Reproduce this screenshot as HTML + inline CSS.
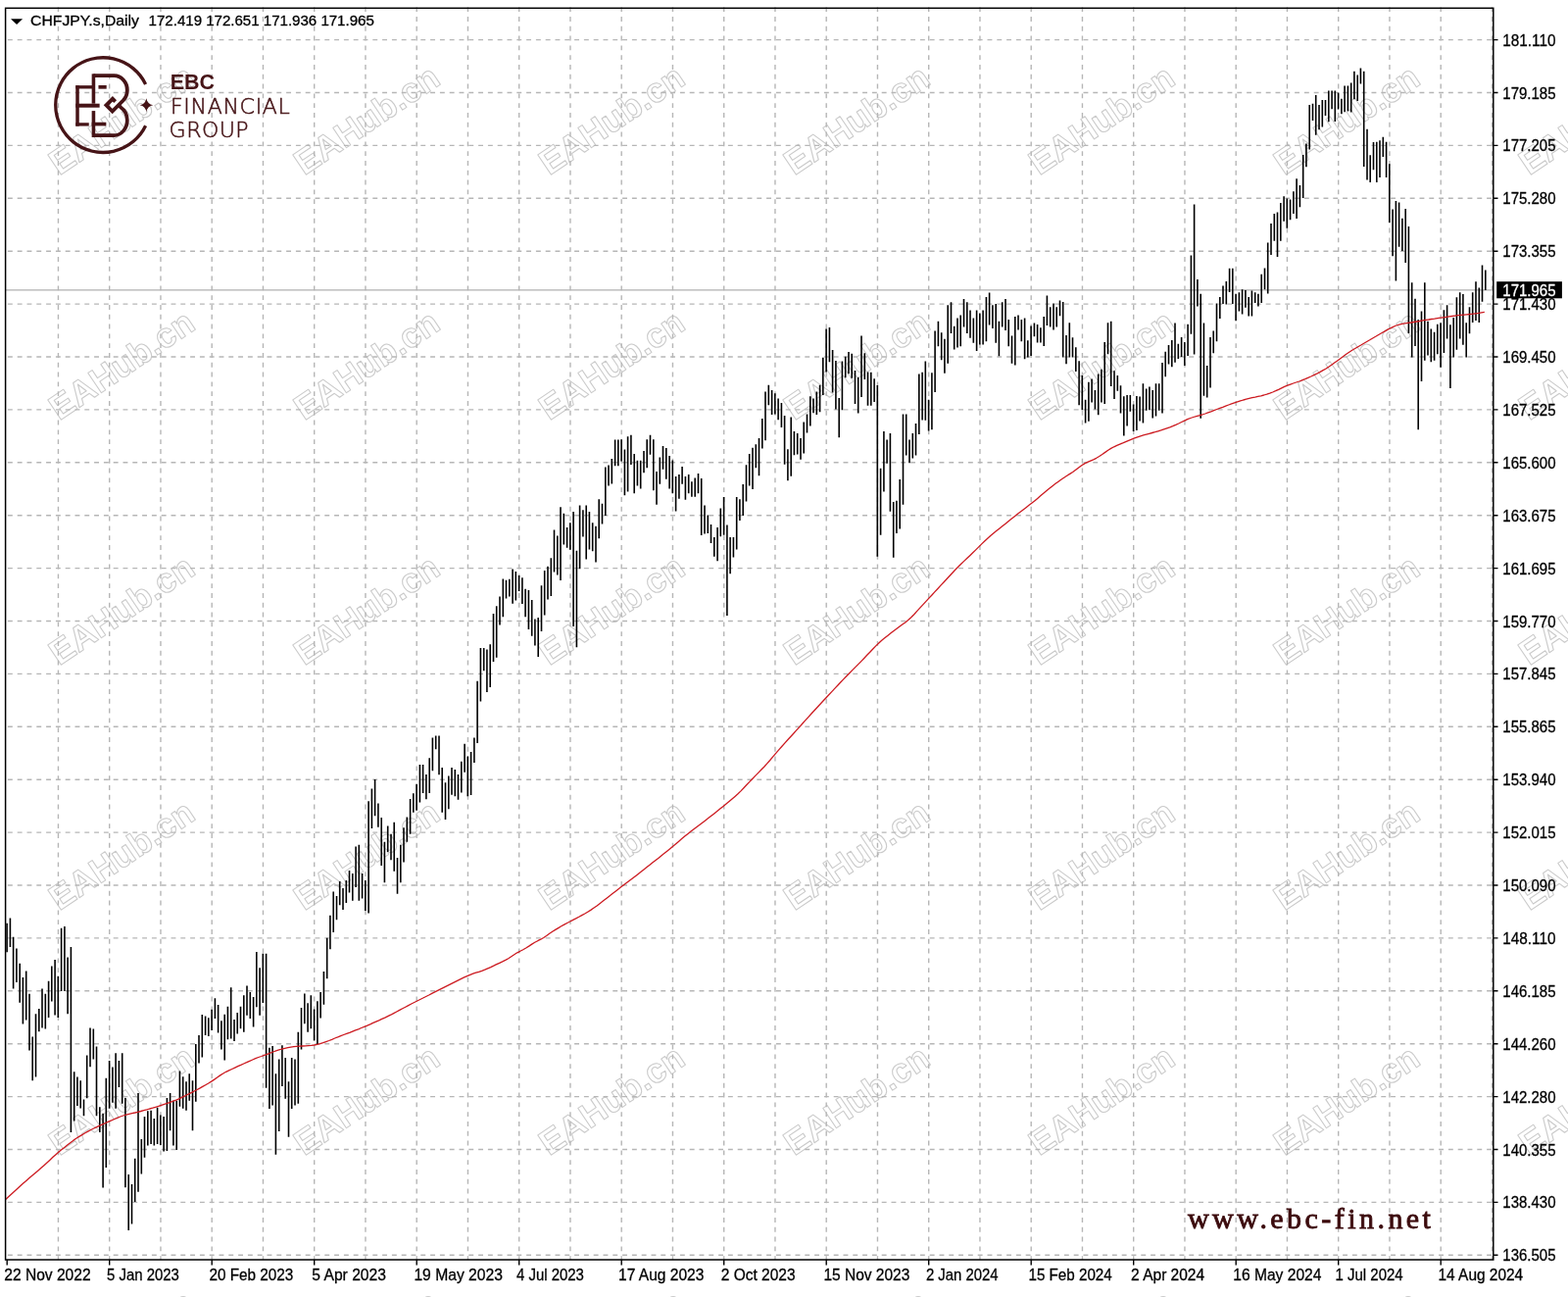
<!DOCTYPE html><html><head><meta charset="utf-8"><title>CHFJPY.s,Daily</title><style>html,body{margin:0;padding:0;background:#fff;overflow:hidden;}svg{display:block;}text{font-family:"Liberation Sans",Arial,sans-serif;}</style></head><body>
<svg width="1600" height="1323" viewBox="0 0 1600 1323">
<rect width="1600" height="1323" fill="#fff"/>
<g font-size="35.5" font-weight="bold" fill="none" stroke="#cacaca" stroke-width="1.05" stroke-linejoin="round" style="font-family:'Liberation Sans',sans-serif"><text x="60.6" y="179.6" transform="rotate(-34 60.6 179.6)">EAHub.cn</text><text x="310.6" y="179.6" transform="rotate(-34 310.6 179.6)">EAHub.cn</text><text x="560.6" y="179.6" transform="rotate(-34 560.6 179.6)">EAHub.cn</text><text x="810.6" y="179.6" transform="rotate(-34 810.6 179.6)">EAHub.cn</text><text x="1060.6" y="179.6" transform="rotate(-34 1060.6 179.6)">EAHub.cn</text><text x="1310.6" y="179.6" transform="rotate(-34 1310.6 179.6)">EAHub.cn</text><text x="1560.6" y="179.6" transform="rotate(-34 1560.6 179.6)">EAHub.cn</text><text x="60.6" y="429.6" transform="rotate(-34 60.6 429.6)">EAHub.cn</text><text x="310.6" y="429.6" transform="rotate(-34 310.6 429.6)">EAHub.cn</text><text x="560.6" y="429.6" transform="rotate(-34 560.6 429.6)">EAHub.cn</text><text x="810.6" y="429.6" transform="rotate(-34 810.6 429.6)">EAHub.cn</text><text x="1060.6" y="429.6" transform="rotate(-34 1060.6 429.6)">EAHub.cn</text><text x="1310.6" y="429.6" transform="rotate(-34 1310.6 429.6)">EAHub.cn</text><text x="1560.6" y="429.6" transform="rotate(-34 1560.6 429.6)">EAHub.cn</text><text x="60.6" y="679.6" transform="rotate(-34 60.6 679.6)">EAHub.cn</text><text x="310.6" y="679.6" transform="rotate(-34 310.6 679.6)">EAHub.cn</text><text x="560.6" y="679.6" transform="rotate(-34 560.6 679.6)">EAHub.cn</text><text x="810.6" y="679.6" transform="rotate(-34 810.6 679.6)">EAHub.cn</text><text x="1060.6" y="679.6" transform="rotate(-34 1060.6 679.6)">EAHub.cn</text><text x="1310.6" y="679.6" transform="rotate(-34 1310.6 679.6)">EAHub.cn</text><text x="1560.6" y="679.6" transform="rotate(-34 1560.6 679.6)">EAHub.cn</text><text x="60.6" y="929.6" transform="rotate(-34 60.6 929.6)">EAHub.cn</text><text x="310.6" y="929.6" transform="rotate(-34 310.6 929.6)">EAHub.cn</text><text x="560.6" y="929.6" transform="rotate(-34 560.6 929.6)">EAHub.cn</text><text x="810.6" y="929.6" transform="rotate(-34 810.6 929.6)">EAHub.cn</text><text x="1060.6" y="929.6" transform="rotate(-34 1060.6 929.6)">EAHub.cn</text><text x="1310.6" y="929.6" transform="rotate(-34 1310.6 929.6)">EAHub.cn</text><text x="1560.6" y="929.6" transform="rotate(-34 1560.6 929.6)">EAHub.cn</text><text x="60.6" y="1179.6" transform="rotate(-34 60.6 1179.6)">EAHub.cn</text><text x="310.6" y="1179.6" transform="rotate(-34 310.6 1179.6)">EAHub.cn</text><text x="560.6" y="1179.6" transform="rotate(-34 560.6 1179.6)">EAHub.cn</text><text x="810.6" y="1179.6" transform="rotate(-34 810.6 1179.6)">EAHub.cn</text><text x="1060.6" y="1179.6" transform="rotate(-34 1060.6 1179.6)">EAHub.cn</text><text x="1310.6" y="1179.6" transform="rotate(-34 1310.6 1179.6)">EAHub.cn</text><text x="1560.6" y="1179.6" transform="rotate(-34 1560.6 1179.6)">EAHub.cn</text><text x="60.6" y="1429.6" transform="rotate(-34 60.6 1429.6)">EAHub.cn</text><text x="310.6" y="1429.6" transform="rotate(-34 310.6 1429.6)">EAHub.cn</text><text x="560.6" y="1429.6" transform="rotate(-34 560.6 1429.6)">EAHub.cn</text><text x="810.6" y="1429.6" transform="rotate(-34 810.6 1429.6)">EAHub.cn</text><text x="1060.6" y="1429.6" transform="rotate(-34 1060.6 1429.6)">EAHub.cn</text><text x="1310.6" y="1429.6" transform="rotate(-34 1310.6 1429.6)">EAHub.cn</text><text x="1560.6" y="1429.6" transform="rotate(-34 1560.6 1429.6)">EAHub.cn</text></g>
<path d="M7.9 40.6H1523.8M7.9 94.5H1523.8M7.9 148.4H1523.8M7.9 202.3H1523.8M7.9 256.2H1523.8M7.9 310.1H1523.8M7.9 364.0H1523.8M7.9 417.9H1523.8M7.9 471.8H1523.8M7.9 525.7H1523.8M7.9 579.6H1523.8M7.9 633.5H1523.8M7.9 687.4H1523.8M7.9 741.3H1523.8M7.9 795.2H1523.8M7.9 849.1H1523.8M7.9 903.0H1523.8M7.9 956.9H1523.8M7.9 1010.8H1523.8M7.9 1064.7H1523.8M7.9 1118.6H1523.8M7.9 1172.5H1523.8M7.9 1226.4H1523.8M7.9 1280.3H1523.8" stroke="#b6b6b6" stroke-width="1.4" stroke-dasharray="4.9 4.9" fill="none"/>
<path d="M59.45 7.2V1285.0M111.70 7.2V1285.0M163.95 7.2V1285.0M216.20 7.2V1285.0M268.45 7.2V1285.0M320.70 7.2V1285.0M372.95 7.2V1285.0M425.20 7.2V1285.0M477.45 7.2V1285.0M529.70 7.2V1285.0M581.95 7.2V1285.0M634.20 7.2V1285.0M686.45 7.2V1285.0M738.70 7.2V1285.0M790.95 7.2V1285.0M843.20 7.2V1285.0M895.45 7.2V1285.0M947.70 7.2V1285.0M999.95 7.2V1285.0M1052.20 7.2V1285.0M1104.45 7.2V1285.0M1156.70 7.2V1285.0M1208.95 7.2V1285.0M1261.20 7.2V1285.0M1313.45 7.2V1285.0M1365.70 7.2V1285.0M1417.95 7.2V1285.0M1470.20 7.2V1285.0M1522.45 7.2V1285.0" stroke="#b6b6b6" stroke-width="1.4" stroke-dasharray="4.9 4.9" fill="none"/>
<path d="M5.6 295.8H1523.8" stroke="#b0b0b0" stroke-width="1.2"/>
<path d="M7.1 941.7V971.3M10.4 936.6V966.1M13.6 955.8V1008.5M16.9 967.4V1002.1M20.2 982.8V1022.7M23.4 997.0V1044.5M26.7 990.5V1040.6M30.0 1013.7V1071.5M33.2 1057.4V1102.3M36.5 1034.2V1098.5M39.8 1029.1V1052.2M43.0 1008.5V1048.4M46.3 1013.7V1049.6M49.6 1000.8V1038.1M52.8 985.4V1021.4M56.1 979.0V1035.5M59.3 995.7V1038.1M62.6 946.8V1011.1M65.9 945.0V1011.1M69.1 976.4V1034.2M72.4 966.1V1155.0M75.7 1093.3V1143.4M78.9 1098.5V1128.0M82.2 1102.3V1130.6M85.5 1121.6V1138.3M88.7 1076.6V1120.3M92.0 1048.4V1088.2M95.3 1049.6V1080.5M98.5 1067.6V1138.3M101.8 1129.3V1155.0M105.1 1135.7V1211.5M108.3 1099.8V1191.0M111.6 1082.1V1130.7M114.9 1088.4V1124.8M118.1 1074.3V1130.7M121.4 1082.1V1109.1M124.7 1074.3V1125.8M127.9 1119.9V1211.3M131.2 1198.1V1255.1M134.5 1207.9V1248.6M137.7 1181.8V1226.0M141.0 1115.0V1215.8M144.3 1162.1V1197.5M147.5 1139.1V1180.8M150.8 1133.2V1168.6M154.1 1132.7V1167.0M157.3 1141.1V1168.6M160.6 1129.7V1167.0M163.8 1137.6V1168.0M167.1 1139.1V1174.5M170.4 1119.9V1173.9M173.6 1115.0V1153.3M176.9 1122.8V1168.6M180.2 1122.8V1172.9M183.4 1092.4V1128.7M186.7 1098.3V1130.7M190.0 1103.2V1132.7M193.2 1095.3V1122.8M196.5 1102.2V1153.3M199.8 1064.9V1123.8M203.0 1056.0V1084.5M206.3 1035.0V1078.6M209.6 1036.4V1056.0M212.8 1038.3V1057.0M216.1 1029.7V1051.0M219.4 1018.2V1039.1M222.6 1025.0V1053.5M225.9 1041.3V1070.5M229.2 1034.8V1081.6M232.4 1026.7V1060.3M235.7 1007.3V1059.5M239.0 1039.9V1062.0M242.2 1033.1V1054.4M245.5 1026.7V1049.3M248.8 1015.3V1052.7M252.0 1005.6V1035.7M255.3 1011.9V1039.1M258.6 1017.0V1047.6M261.8 971.1V1027.2M265.1 987.2V1035.7M268.3 972.8V1022.9M271.6 972.8V1109.7M274.9 1068.8V1130.9M278.1 1067.1V1127.5M281.4 1095.2V1177.7M284.7 1080.4V1153.9M287.9 1066.3V1108.0M291.2 1079.0V1120.7M294.5 1103.2V1159.8M297.7 1079.0V1130.9M301.0 1080.4V1127.5M304.3 1052.7V1125.8M307.5 1028.0V1070.5M310.8 1013.6V1044.2M314.1 1023.3V1052.7M317.3 1015.3V1049.3M320.6 1029.4V1061.6M323.9 1021.3V1065.1M327.1 1012.1V1038.6M330.4 990.9V1024.7M333.7 956.7V998.2M336.9 933.7V968.3M340.2 909.5V951.0M343.5 914.1V938.3M346.7 899.1V923.3M350.0 906.0V927.9M353.3 897.9V921.0M356.5 888.0V910.6M359.8 891.0V918.7M363.1 863.4V904.9M366.3 861.8V918.7M369.6 891.0V916.4M372.8 897.9V929.1M376.1 817.3V931.4M379.4 804.6V844.9M382.6 794.9V832.2M385.9 819.6V843.8M389.2 834.1V883.0M392.4 858.8V900.3M395.7 842.6V869.1M399.0 850.7V877.2M402.2 838.7V888.7M405.5 874.9V911.8M408.8 861.8V900.3M412.0 844.2V879.5M415.3 833.4V858.8M418.6 815.0V850.7M421.8 809.2V828.8M425.1 799.7V826.7M428.4 779.9V818.4M431.6 779.9V809.0M434.9 789.9V815.3M438.2 773.3V809.0M441.4 752.5V786.2M444.7 750.4V764.3M448.0 750.4V790.3M451.2 783.1V828.8M454.5 798.2V836.1M457.8 791.4V825.3M461.0 783.1V810.7M464.3 785.1V812.2M467.5 789.9V815.7M470.8 776.8V808.6M474.1 758.7V787.8M477.3 771.6V812.2M480.6 767.1V811.1M483.9 752.5V777.9M487.1 694.7V758.1M490.4 661.0V715.5M493.7 661.0V684.3M496.9 662.5V706.1M500.2 657.3V701.0M503.5 626.1V675.0M506.7 618.2V670.8M510.0 608.5V637.6M513.3 590.4V629.2M516.5 591.8V610.5M519.8 590.8V608.5M523.1 580.4V615.7M526.3 582.9V612.6M529.6 587.1V603.1M532.9 589.2V615.9M536.1 600.8V629.2M539.4 602.0V642.1M542.7 611.9V648.7M545.9 631.5V658.5M549.2 630.1V670.0M552.5 597.2V643.9M555.7 582.1V627.4M559.0 577.7V611.4M562.3 569.3V607.9M565.5 540.4V583.5M568.8 546.6V586.5M572.0 517.3V591.9M575.3 523.8V555.5M578.6 538.0V558.7M581.8 533.3V560.8M585.1 522.1V638.9M588.4 561.7V660.3M591.6 515.5V580.3M594.9 520.3V547.5M598.2 515.5V570.6M601.4 522.1V560.4M604.7 533.3V562.2M608.0 536.8V573.6M611.2 509.3V549.2M614.5 513.7V534.5M617.8 476.4V526.1M621.0 474.6V495.4M624.3 468.1V493.6M627.6 448.5V475.2M630.8 448.5V475.2M634.1 448.3V470.5M637.4 458.4V505.3M640.6 445.3V501.5M643.9 443.8V474.0M647.2 463.0V503.3M650.4 469.8V495.5M653.7 469.8V498.5M657.0 459.9V482.2M660.2 448.3V477.3M663.5 443.8V463.7M666.8 448.3V500.3M670.0 481.1V514.8M673.3 466.4V493.7M676.5 455.0V478.8M679.8 456.9V488.7M683.1 464.9V498.5M686.3 469.5V503.3M689.6 486.1V521.5M692.9 484.1V508.8M696.1 476.1V493.7M699.4 486.1V509.8M702.7 484.1V503.3M705.9 491.2V506.8M709.2 487.6V506.8M712.5 483.1V503.3M715.7 487.9V546.1M719.0 515.4V544.6M722.3 525.4V544.1M725.5 535.1V554.1M728.8 548.1V567.7M732.1 538.1V572.3M735.3 518.4V547.2M738.6 506.9V545.7M741.9 535.4V627.9M745.1 548.0V585.2M748.4 548.0V568.5M751.7 506.9V560.6M754.9 509.2V530.9M758.2 493.9V525.9M761.5 474.3V511.5M764.7 462.9V495.5M768.0 456.7V498.9M771.3 453.3V477.2M774.5 446.9V485.2M777.8 427.0V457.4M781.0 399.6V449.2M784.3 392.8V413.3M787.6 398.0V423.1M790.8 401.2V422.4M794.1 406.5V428.2M797.4 411.0V436.1M800.6 424.0V473.8M803.9 458.3V490.2M807.2 425.4V485.7M810.4 440.0V464.2M813.7 441.9V463.5M817.0 446.9V468.8M820.2 430.4V462.4M823.5 422.4V441.4M826.8 404.2V434.5M830.0 406.5V421.3M833.3 399.6V423.1M836.6 392.8V420.2M839.8 364.7V403.0M843.1 335.5V379.4M846.4 334.0V369.3M849.6 357.1V400.4M852.9 368.0V417.4M856.2 405.9V446.2M859.4 368.4V418.2M862.7 363.8V385.2M866.0 358.9V381.2M869.2 360.7V385.8M872.5 377.9V411.9M875.7 384.9V421.5M879.0 342.4V405.0M882.3 360.2V387.1M885.5 379.4V413.8M888.8 379.8V413.8M892.1 386.3V410.1M895.3 393.1V567.8M898.6 477.8V545.8M901.9 440.1V501.6M905.1 448.5V472.7M908.4 441.9V521.7M911.7 512.0V568.7M914.9 510.7V544.0M918.2 489.1V539.4M921.5 422.4V514.7M924.7 422.4V464.4M928.0 448.5V472.3M931.3 441.9V467.6M934.5 432.1V464.4M937.8 381.6V443.0M941.1 379.8V428.4M944.3 368.4V428.8M947.6 407.7V439.4M950.9 380.2V438.2M954.1 337.4V400.1M957.4 327.7V353.3M960.7 339.2V367.3M963.9 345.7V380.8M967.2 311.3V370.8M970.5 308.2V340.1M973.7 332.8V356.5M977.0 324.6V354.4M980.2 321.4V353.3M983.5 305.0V333.6M986.8 308.2V340.1M990.0 316.4V344.8M993.3 324.6V349.8M996.6 316.4V358.0M999.8 319.5V351.5M1003.1 316.4V351.5M1006.4 303.1V348.3M1009.6 298.4V331.6M1012.9 311.3V335.1M1016.2 309.9V349.8M1019.4 327.7V363.2M1022.7 308.2V333.6M1026.0 305.0V336.9M1029.2 326.1V353.3M1032.5 342.5V370.8M1035.8 323.0V372.6M1039.0 321.4V336.6M1042.3 326.1V348.3M1045.6 324.6V366.2M1048.8 347.2V364.4M1052.1 332.5V363.0M1055.4 329.6V343.3M1058.6 331.1V349.5M1061.9 334.2V349.5M1065.2 322.9V353.0M1068.4 301.4V331.9M1071.7 313.2V333.4M1075.0 309.6V336.6M1078.2 313.2V333.4M1081.5 306.5V322.2M1084.7 308.1V364.4M1088.0 342.1V371.2M1091.3 329.2V364.4M1094.5 344.2V364.4M1097.8 354.2V379.1M1101.1 368.2V413.3M1104.3 383.1V418.3M1107.6 407.7V431.5M1110.9 389.7V429.7M1114.1 386.4V410.4M1117.4 397.9V417.4M1120.7 381.5V423.3M1123.9 376.8V410.4M1127.2 349.1V411.9M1130.5 329.2V361.2M1133.7 327.8V394.0M1137.0 378.2V406.9M1140.3 383.1V398.7M1143.5 393.2V421.5M1146.8 404.2V444.4M1150.1 403.0V434.4M1153.3 403.0V419.8M1156.6 412.6V440.0M1159.9 404.1V439.0M1163.1 404.5V429.6M1166.4 391.2V431.5M1169.7 396.5V418.8M1172.9 394.6V418.3M1176.2 398.0V426.4M1179.5 391.2V424.5M1182.7 391.2V418.8M1186.0 370.1V421.5M1189.2 358.7V384.2M1192.5 352.1V371.6M1195.8 347.0V374.2M1199.0 329.4V369.7M1202.3 350.8V365.9M1205.6 344.0V364.0M1208.8 348.9V372.9M1212.1 330.8V362.9M1215.4 260.5V340.8M1218.6 208.5V361.6M1221.9 285.0V312.4M1225.2 299.8V426.8M1228.4 329.4V403.7M1231.7 372.9V405.6M1235.0 344.0V395.6M1238.2 337.6V360.2M1241.5 309.6V348.3M1244.8 303.0V325.1M1248.0 291.6V310.0M1251.3 286.9V310.5M1254.6 273.7V297.9M1257.8 273.7V310.0M1261.1 299.8V327.2M1264.4 298.3V317.4M1267.6 295.2V320.6M1270.9 296.1V313.7M1274.2 303.1V322.4M1277.4 296.5V322.4M1280.7 298.3V309.1M1283.9 299.8V312.4M1287.2 279.8V309.1M1290.5 273.5V295.2M1293.7 247.6V299.4M1297.0 228.0V260.0M1300.3 218.0V245.7M1303.5 216.5V261.9M1306.8 206.9V245.7M1310.1 200.2V225.7M1313.3 202.6V232.8M1316.6 203.5V224.3M1319.9 195.2V218.0M1323.1 182.2V223.0M1326.4 189.1V211.3M1329.7 158.1V202.0M1332.9 146.5V170.2M1336.2 106.9V152.6M1339.5 105.7V123.0M1342.7 97.0V137.8M1346.0 106.9V132.2M1349.3 102.0V129.4M1352.5 102.0V118.0M1355.8 92.4V124.3M1359.1 92.4V111.3M1362.3 92.4V123.9M1365.6 94.4V111.5M1368.9 100.7V116.3M1372.1 87.5V114.2M1375.4 87.5V113.3M1378.7 84.5V114.5M1381.9 72.8V101.2M1385.2 76.4V103.0M1388.4 69.6V85.4M1391.7 72.8V169.9M1395.0 131.8V183.4M1398.2 158.2V186.1M1401.5 145.1V173.2M1404.8 144.8V186.1M1408.0 143.3V181.1M1411.3 139.7V160.0M1414.6 144.8V181.1M1417.8 167.2V227.1M1421.1 213.5V261.3M1424.4 205.0V286.4M1427.6 206.4V251.7M1430.9 222.8V255.9M1434.2 213.1V268.1M1437.4 230.9V340.0M1440.7 288.3V364.4M1444.0 304.7V352.9M1447.2 325.9V438.3M1450.5 317.6V388.9M1453.8 288.3V367.7M1457.0 327.8V362.5M1460.3 335.5V369.3M1463.6 338.8V367.7M1466.8 330.7V361.2M1470.1 329.2V374.7M1473.4 316.2V359.9M1476.6 311.2V345.4M1479.9 331.3V395.9M1483.2 323.9V364.6M1486.4 303.3V356.7M1489.7 298.2V345.4M1492.9 299.9V351.7M1496.2 329.2V364.6M1499.5 313.3V340.3M1502.7 298.2V328.9M1506.0 287.2V327.1M1509.3 293.5V328.9M1512.5 270.5V307.7M1515.8 275.5V296.1" stroke="#000" stroke-width="1.6" fill="none"/>
<polyline points="5.7,1223.6 8.7,1220.8 11.7,1218.1 14.7,1215.3 17.7,1212.5 20.7,1209.7 23.7,1207.0 26.7,1204.4 29.7,1201.8 32.7,1199.3 35.7,1196.8 38.7,1194.2 41.7,1191.6 44.7,1188.9 47.7,1186.2 50.7,1183.4 53.7,1180.6 56.7,1177.9 59.7,1175.3 62.7,1172.8 65.7,1170.4 68.7,1168.0 71.7,1165.7 74.7,1163.4 77.7,1161.3 80.7,1159.4 83.7,1157.6 86.7,1155.8 89.7,1154.1 92.7,1152.5 95.7,1151.0 98.7,1149.6 101.7,1148.2 104.7,1146.8 107.7,1145.5 110.7,1144.2 113.7,1142.9 116.7,1141.5 119.7,1140.3 122.7,1139.0 125.7,1138.0 128.7,1137.1 131.7,1136.3 134.7,1135.6 137.7,1135.0 140.7,1134.3 143.7,1133.5 146.7,1132.7 149.7,1131.9 152.7,1131.0 155.7,1130.2 158.7,1129.3 161.7,1128.4 164.7,1127.4 167.7,1126.4 170.7,1125.4 173.7,1124.3 176.7,1123.2 179.7,1122.1 182.7,1120.8 185.7,1119.3 188.7,1117.9 191.7,1116.3 194.7,1114.8 197.7,1113.3 200.7,1111.7 203.7,1110.1 206.7,1108.4 209.7,1106.7 212.7,1105.0 215.7,1103.1 218.7,1101.1 221.7,1099.0 224.7,1096.9 227.7,1095.0 230.7,1093.3 233.7,1091.9 236.7,1090.5 239.7,1089.1 242.7,1087.7 245.7,1086.4 248.7,1085.0 251.7,1083.7 254.7,1082.3 257.7,1081.0 260.7,1079.7 263.7,1078.5 266.7,1077.5 269.7,1076.4 272.7,1075.3 275.7,1074.2 278.7,1073.0 281.7,1071.9 284.7,1070.9 287.7,1070.0 290.7,1069.3 293.7,1068.7 296.7,1068.1 299.7,1067.7 302.7,1067.4 305.7,1067.2 308.7,1067.0 311.7,1066.8 314.7,1066.6 317.7,1066.4 320.7,1066.0 323.7,1065.4 326.7,1064.6 329.7,1063.7 332.7,1062.6 335.7,1061.5 338.7,1060.3 341.7,1059.0 344.7,1057.9 347.7,1056.7 350.7,1055.5 353.7,1054.4 356.7,1053.3 359.7,1052.1 362.7,1050.9 365.7,1049.8 368.7,1048.5 371.7,1047.3 374.7,1046.1 377.7,1044.8 380.7,1043.4 383.7,1042.1 386.7,1040.8 389.7,1039.4 392.7,1038.1 395.7,1036.6 398.7,1035.2 401.7,1033.6 404.7,1032.0 407.7,1030.4 410.7,1028.8 413.7,1027.2 416.7,1025.6 419.7,1024.0 422.7,1022.5 425.7,1021.0 428.7,1019.5 431.7,1018.0 434.7,1016.5 437.7,1015.0 440.7,1013.4 443.7,1011.9 446.7,1010.4 449.7,1008.9 452.7,1007.4 455.7,1005.9 458.7,1004.4 461.7,1002.9 464.7,1001.4 467.7,999.9 470.7,998.4 473.7,996.9 476.7,995.6 479.7,994.3 482.7,993.2 485.7,992.2 488.7,991.3 491.7,990.3 494.7,989.2 497.7,987.9 500.7,986.6 503.7,985.2 506.7,983.7 509.7,982.3 512.7,980.9 515.7,979.4 518.7,977.7 521.7,975.7 524.7,973.7 527.7,971.8 530.7,970.3 533.7,968.7 536.7,967.0 539.7,965.1 542.7,963.1 545.7,961.3 548.7,959.7 551.7,958.2 554.7,956.5 557.7,954.5 560.7,952.3 563.7,950.3 566.7,948.4 569.7,946.6 572.7,944.8 575.7,943.1 578.7,941.5 581.7,940.0 584.7,938.4 587.7,936.9 590.7,935.3 593.7,933.6 596.7,932.0 599.7,930.2 602.7,928.4 605.7,926.3 608.7,924.2 611.7,921.9 614.7,919.6 617.7,917.2 620.7,914.9 623.7,912.6 626.7,910.2 629.7,907.9 632.7,905.6 635.7,903.3 638.7,901.0 641.7,898.7 644.7,896.5 647.7,894.2 650.7,891.9 653.7,889.5 656.7,887.2 659.7,884.8 662.7,882.5 665.7,880.1 668.7,877.7 671.7,875.4 674.7,873.0 677.7,870.6 680.7,868.2 683.7,865.7 686.7,863.2 689.7,860.7 692.7,858.2 695.7,855.6 698.7,853.1 701.7,850.7 704.7,848.3 707.7,846.0 710.7,843.7 713.7,841.5 716.7,839.2 719.7,836.9 722.7,834.6 725.7,832.3 728.7,829.9 731.7,827.5 734.7,825.1 737.7,822.7 740.7,820.3 743.7,817.8 746.7,815.3 749.7,812.7 752.7,810.0 755.7,807.1 758.7,804.0 761.7,800.8 764.7,797.6 767.7,794.5 770.7,791.4 773.7,788.4 776.7,785.3 779.7,782.2 782.7,778.9 785.7,775.5 788.7,771.9 791.7,768.4 794.7,764.9 797.7,761.5 800.7,758.1 803.7,754.8 806.7,751.5 809.7,748.2 812.7,744.9 815.7,741.6 818.7,738.2 821.7,734.9 824.7,731.6 827.7,728.3 830.7,725.0 833.7,721.7 836.7,718.5 839.7,715.2 842.7,712.0 845.7,708.8 848.7,705.6 851.7,702.4 854.7,699.2 857.7,696.0 860.7,692.9 863.7,689.7 866.7,686.7 869.7,683.6 872.7,680.6 875.7,677.6 878.7,674.6 881.7,671.5 884.7,668.3 887.7,665.2 890.7,662.0 893.7,658.9 896.7,656.0 899.7,653.3 902.7,650.8 905.7,648.4 908.7,646.0 911.7,643.7 914.7,641.5 917.7,639.3 920.7,637.1 923.7,634.9 926.7,632.5 929.7,629.7 932.7,626.7 935.7,623.4 938.7,620.1 941.7,616.9 944.7,613.6 947.7,610.4 950.7,607.2 953.7,603.9 956.7,600.7 959.7,597.4 962.7,594.2 965.7,591.0 968.7,587.7 971.7,584.5 974.7,581.3 977.7,578.3 980.7,575.3 983.7,572.4 986.7,569.6 989.7,566.7 992.7,563.8 995.7,560.9 998.7,557.9 1001.7,554.9 1004.7,552.0 1007.7,549.2 1010.7,546.5 1013.7,544.0 1016.7,541.6 1019.7,539.2 1022.7,536.8 1025.7,534.4 1028.7,532.0 1031.7,529.6 1034.7,527.2 1037.7,524.8 1040.7,522.5 1043.7,520.2 1046.7,517.9 1049.7,515.6 1052.7,513.3 1055.7,510.9 1058.7,508.4 1061.7,505.8 1064.7,503.3 1067.7,500.8 1070.7,498.3 1073.7,495.9 1076.7,493.6 1079.7,491.4 1082.7,489.2 1085.7,487.2 1088.7,485.3 1091.7,483.4 1094.7,481.5 1097.7,479.3 1100.7,477.0 1103.7,474.8 1106.7,472.9 1109.7,471.4 1112.7,470.1 1115.7,468.8 1118.7,467.3 1121.7,465.5 1124.7,463.5 1127.7,461.4 1130.7,459.3 1133.7,457.4 1136.7,455.8 1139.7,454.4 1142.7,453.1 1145.7,451.9 1148.7,450.6 1151.7,449.3 1154.7,448.1 1157.7,446.9 1160.7,445.8 1163.7,444.8 1166.7,443.9 1169.7,443.1 1172.7,442.3 1175.7,441.5 1178.7,440.7 1181.7,439.8 1184.7,438.9 1187.7,437.9 1190.7,436.9 1193.7,435.9 1196.7,434.7 1199.7,433.4 1202.7,432.0 1205.7,430.5 1208.7,429.1 1211.7,427.7 1214.7,426.5 1217.7,425.5 1220.7,424.6 1223.7,423.8 1226.7,423.0 1229.7,422.0 1232.7,420.9 1235.7,419.8 1238.7,418.6 1241.7,417.5 1244.7,416.4 1247.7,415.3 1250.7,414.1 1253.7,413.0 1256.7,411.9 1259.7,410.9 1262.7,409.9 1265.7,408.9 1268.7,408.0 1271.7,407.2 1274.7,406.4 1277.7,405.7 1280.7,405.1 1283.7,404.4 1286.7,403.8 1289.7,403.0 1292.7,402.1 1295.7,401.1 1298.7,400.0 1301.7,398.7 1304.7,397.3 1307.7,395.8 1310.7,394.4 1313.7,393.2 1316.7,392.1 1319.7,391.0 1322.7,390.0 1325.7,389.0 1328.7,387.8 1331.7,386.6 1334.7,385.3 1337.7,384.0 1340.7,382.6 1343.7,381.2 1346.7,379.6 1349.7,377.9 1352.7,376.2 1355.7,374.3 1358.7,372.3 1361.7,370.1 1364.7,367.9 1367.7,365.7 1370.7,363.5 1373.7,361.3 1376.7,359.3 1379.7,357.3 1382.7,355.5 1385.7,353.7 1388.7,352.0 1391.7,350.2 1394.7,348.5 1397.7,346.8 1400.7,345.0 1403.7,343.3 1406.7,341.5 1409.7,339.8 1412.7,338.1 1415.7,336.4 1418.7,334.8 1421.7,333.3 1424.7,332.0 1427.7,331.1 1430.7,330.4 1433.7,329.9 1436.7,329.4 1439.7,329.0 1442.7,328.5 1445.7,328.0 1448.7,327.5 1451.7,326.9 1454.7,326.4 1457.7,326.0 1460.7,325.5 1463.7,325.1 1466.7,324.6 1469.7,324.2 1472.7,323.8 1475.7,323.4 1478.7,322.9 1481.7,322.5 1484.7,322.1 1487.7,321.7 1490.7,321.4 1493.7,321.1 1496.7,320.8 1499.7,320.5 1502.7,320.2 1505.7,319.8 1508.7,319.4 1511.7,318.9 1514.7,318.4 1514.8,318.4" stroke="#cc1a20" stroke-width="1.3" fill="none" stroke-linejoin="round"/>
<rect x="5.6" y="8.3" width="1518.2" height="1276.7" fill="none" stroke="#000" stroke-width="1.5"/>
<path d="M1523.8 40.6H1528.5M1523.8 94.5H1528.5M1523.8 148.4H1528.5M1523.8 202.3H1528.5M1523.8 256.2H1528.5M1523.8 310.1H1528.5M1523.8 364.0H1528.5M1523.8 417.9H1528.5M1523.8 471.8H1528.5M1523.8 525.7H1528.5M1523.8 579.6H1528.5M1523.8 633.5H1528.5M1523.8 687.4H1528.5M1523.8 741.3H1528.5M1523.8 795.2H1528.5M1523.8 849.1H1528.5M1523.8 903.0H1528.5M1523.8 956.9H1528.5M1523.8 1010.8H1528.5M1523.8 1064.7H1528.5M1523.8 1118.6H1528.5M1523.8 1172.5H1528.5M1523.8 1226.4H1528.5M1523.8 1280.3H1528.5" stroke="#000" stroke-width="1.4"/>
<text x="1533.3" y="46.6" font-size="16.4" textLength="54.2" lengthAdjust="spacingAndGlyphs" fill="#000" stroke="#000" stroke-width="0.3">181.110</text>
<text x="1533.3" y="100.5" font-size="16.4" textLength="54.2" lengthAdjust="spacingAndGlyphs" fill="#000" stroke="#000" stroke-width="0.3">179.185</text>
<text x="1533.3" y="154.4" font-size="16.4" textLength="54.2" lengthAdjust="spacingAndGlyphs" fill="#000" stroke="#000" stroke-width="0.3">177.205</text>
<text x="1533.3" y="208.3" font-size="16.4" textLength="54.2" lengthAdjust="spacingAndGlyphs" fill="#000" stroke="#000" stroke-width="0.3">175.280</text>
<text x="1533.3" y="262.2" font-size="16.4" textLength="54.2" lengthAdjust="spacingAndGlyphs" fill="#000" stroke="#000" stroke-width="0.3">173.355</text>
<text x="1533.3" y="316.1" font-size="16.4" textLength="54.2" lengthAdjust="spacingAndGlyphs" fill="#000" stroke="#000" stroke-width="0.3">171.430</text>
<text x="1533.3" y="370.0" font-size="16.4" textLength="54.2" lengthAdjust="spacingAndGlyphs" fill="#000" stroke="#000" stroke-width="0.3">169.450</text>
<text x="1533.3" y="423.9" font-size="16.4" textLength="54.2" lengthAdjust="spacingAndGlyphs" fill="#000" stroke="#000" stroke-width="0.3">167.525</text>
<text x="1533.3" y="477.8" font-size="16.4" textLength="54.2" lengthAdjust="spacingAndGlyphs" fill="#000" stroke="#000" stroke-width="0.3">165.600</text>
<text x="1533.3" y="531.7" font-size="16.4" textLength="54.2" lengthAdjust="spacingAndGlyphs" fill="#000" stroke="#000" stroke-width="0.3">163.675</text>
<text x="1533.3" y="585.6" font-size="16.4" textLength="54.2" lengthAdjust="spacingAndGlyphs" fill="#000" stroke="#000" stroke-width="0.3">161.695</text>
<text x="1533.3" y="639.5" font-size="16.4" textLength="54.2" lengthAdjust="spacingAndGlyphs" fill="#000" stroke="#000" stroke-width="0.3">159.770</text>
<text x="1533.3" y="693.4" font-size="16.4" textLength="54.2" lengthAdjust="spacingAndGlyphs" fill="#000" stroke="#000" stroke-width="0.3">157.845</text>
<text x="1533.3" y="747.3" font-size="16.4" textLength="54.2" lengthAdjust="spacingAndGlyphs" fill="#000" stroke="#000" stroke-width="0.3">155.865</text>
<text x="1533.3" y="801.2" font-size="16.4" textLength="54.2" lengthAdjust="spacingAndGlyphs" fill="#000" stroke="#000" stroke-width="0.3">153.940</text>
<text x="1533.3" y="855.1" font-size="16.4" textLength="54.2" lengthAdjust="spacingAndGlyphs" fill="#000" stroke="#000" stroke-width="0.3">152.015</text>
<text x="1533.3" y="909.0" font-size="16.4" textLength="54.2" lengthAdjust="spacingAndGlyphs" fill="#000" stroke="#000" stroke-width="0.3">150.090</text>
<text x="1533.3" y="962.9" font-size="16.4" textLength="54.2" lengthAdjust="spacingAndGlyphs" fill="#000" stroke="#000" stroke-width="0.3">148.110</text>
<text x="1533.3" y="1016.8" font-size="16.4" textLength="54.2" lengthAdjust="spacingAndGlyphs" fill="#000" stroke="#000" stroke-width="0.3">146.185</text>
<text x="1533.3" y="1070.7" font-size="16.4" textLength="54.2" lengthAdjust="spacingAndGlyphs" fill="#000" stroke="#000" stroke-width="0.3">144.260</text>
<text x="1533.3" y="1124.6" font-size="16.4" textLength="54.2" lengthAdjust="spacingAndGlyphs" fill="#000" stroke="#000" stroke-width="0.3">142.280</text>
<text x="1533.3" y="1178.5" font-size="16.4" textLength="54.2" lengthAdjust="spacingAndGlyphs" fill="#000" stroke="#000" stroke-width="0.3">140.355</text>
<text x="1533.3" y="1232.4" font-size="16.4" textLength="54.2" lengthAdjust="spacingAndGlyphs" fill="#000" stroke="#000" stroke-width="0.3">138.430</text>
<text x="1533.3" y="1286.3" font-size="16.4" textLength="54.2" lengthAdjust="spacingAndGlyphs" fill="#000" stroke="#000" stroke-width="0.3">136.505</text>
<path d="M7.2 1285.0V1290.5M111.7 1285.0V1290.5M216.2 1285.0V1290.5M320.7 1285.0V1290.5M425.2 1285.0V1290.5M529.7 1285.0V1290.5M634.2 1285.0V1290.5M738.7 1285.0V1290.5M843.2 1285.0V1290.5M947.7 1285.0V1290.5M1052.2 1285.0V1290.5M1156.7 1285.0V1290.5M1261.2 1285.0V1290.5M1365.7 1285.0V1290.5M1470.2 1285.0V1290.5" stroke="#000" stroke-width="1.4"/>
<text x="4.3" y="1305.5" font-size="16.4" textLength="88.3" lengthAdjust="spacingAndGlyphs" fill="#000" stroke="#000" stroke-width="0.3">22 Nov 2022</text>
<text x="109.1" y="1305.5" font-size="16.4" textLength="73.8" lengthAdjust="spacingAndGlyphs" fill="#000" stroke="#000" stroke-width="0.3">5 Jan 2023</text>
<text x="213.5" y="1305.5" font-size="16.4" textLength="85.8" lengthAdjust="spacingAndGlyphs" fill="#000" stroke="#000" stroke-width="0.3">20 Feb 2023</text>
<text x="318.3" y="1305.5" font-size="16.4" textLength="75.6" lengthAdjust="spacingAndGlyphs" fill="#000" stroke="#000" stroke-width="0.3">5 Apr 2023</text>
<text x="422.4" y="1305.5" font-size="16.4" textLength="90.6" lengthAdjust="spacingAndGlyphs" fill="#000" stroke="#000" stroke-width="0.3">19 May 2023</text>
<text x="527.0" y="1305.5" font-size="16.4" textLength="68.9" lengthAdjust="spacingAndGlyphs" fill="#000" stroke="#000" stroke-width="0.3">4 Jul 2023</text>
<text x="631.1" y="1305.5" font-size="16.4" textLength="87.3" lengthAdjust="spacingAndGlyphs" fill="#000" stroke="#000" stroke-width="0.3">17 Aug 2023</text>
<text x="735.8" y="1305.5" font-size="16.4" textLength="75.7" lengthAdjust="spacingAndGlyphs" fill="#000" stroke="#000" stroke-width="0.3">2 Oct 2023</text>
<text x="840.4" y="1305.5" font-size="16.4" textLength="87.9" lengthAdjust="spacingAndGlyphs" fill="#000" stroke="#000" stroke-width="0.3">15 Nov 2023</text>
<text x="944.9" y="1305.5" font-size="16.4" textLength="73.6" lengthAdjust="spacingAndGlyphs" fill="#000" stroke="#000" stroke-width="0.3">2 Jan 2024</text>
<text x="1049.5" y="1305.5" font-size="16.4" textLength="85.2" lengthAdjust="spacingAndGlyphs" fill="#000" stroke="#000" stroke-width="0.3">15 Feb 2024</text>
<text x="1154.1" y="1305.5" font-size="16.4" textLength="75.0" lengthAdjust="spacingAndGlyphs" fill="#000" stroke="#000" stroke-width="0.3">2 Apr 2024</text>
<text x="1258.3" y="1305.5" font-size="16.4" textLength="90.1" lengthAdjust="spacingAndGlyphs" fill="#000" stroke="#000" stroke-width="0.3">16 May 2024</text>
<text x="1362.6" y="1305.5" font-size="16.4" textLength="69.0" lengthAdjust="spacingAndGlyphs" fill="#000" stroke="#000" stroke-width="0.3">1 Jul 2024</text>
<text x="1467.5" y="1305.5" font-size="16.4" textLength="86.7" lengthAdjust="spacingAndGlyphs" fill="#000" stroke="#000" stroke-width="0.3">14 Aug 2024</text>
<path d="M11 19.2H23.1L17.05 25Z" fill="#000"/>
<text x="31.1" y="26.4" font-size="15.0" textLength="110.8" lengthAdjust="spacingAndGlyphs" fill="#000" stroke="#000" stroke-width="0.3">CHFJPY.s,Daily</text>
<text x="151.6" y="26.4" font-size="15.0" textLength="230.2" lengthAdjust="spacingAndGlyphs" fill="#000" stroke="#000" stroke-width="0.3">172.419 172.651 171.936 171.965</text>
<rect x="1527.2" y="287.2" width="66.7" height="17.1" fill="#000"/>
<text x="1533.3" y="301.8" font-size="16.4" textLength="54.2" lengthAdjust="spacingAndGlyphs" fill="#fff" stroke="#fff" stroke-width="0.3">171.965</text>
<g transform="translate(50,52) scale(0.08313)" fill="#461417" stroke="none">
<path d="M1186 408A582 582 0 1 0 1186 918" fill="none" stroke="#461417" stroke-width="40"/>
<path d="M1195 580Q1207 653 1278 665Q1207 677 1195 750Q1183 677 1115 665Q1183 653 1195 580Z"/>
<rect x="328" y="423" width="42" height="499"/>
<rect x="328" y="423" width="205" height="40"/>
<rect x="328" y="646" width="293" height="48"/>
<rect x="328" y="881" width="162" height="40"/>
<rect x="525" y="281" width="43" height="365"/>
<rect x="525" y="735" width="43" height="324"/>
<rect x="607" y="421" width="99" height="44"/>
<rect x="525" y="875" width="177" height="44"/>
<path d="M546 303H798A162 177 0 0 1 960 480A162 177 0 0 1 912.5 605L778 740L703 665L781 587L814 620" fill="none" stroke="#461417" stroke-width="46" stroke-linejoin="miter"/>
<path d="M868 675L880 691A162 185 0 0 1 960 851A162 185 0 0 1 798 1036H546" fill="none" stroke="#461417" stroke-width="45"/>
</g>
<text x="173.7" y="91.4" font-size="21.8" font-weight="bold" textLength="45.3" lengthAdjust="spacingAndGlyphs" fill="#461417">EBC</text>
<text x="174" y="116" font-size="22" fill="#461417" style="font-family:'DejaVu Sans',sans-serif;font-weight:200;letter-spacing:0.7px" stroke="#461417" stroke-width="0.55">FINANCIAL</text>
<text x="172.6" y="139.6" font-size="22" fill="#461417" style="font-family:'DejaVu Sans',sans-serif;font-weight:200;letter-spacing:0.5px" stroke="#461417" stroke-width="0.55">GROUP</text>
<text x="1212" y="1253.3" font-size="30" fill="#3c0c0e" stroke="#3c0c0e" stroke-width="0.85" style="font-family:'Liberation Serif',serif;letter-spacing:3.45px">www.ebc-fin.net</text>
</svg></body></html>
